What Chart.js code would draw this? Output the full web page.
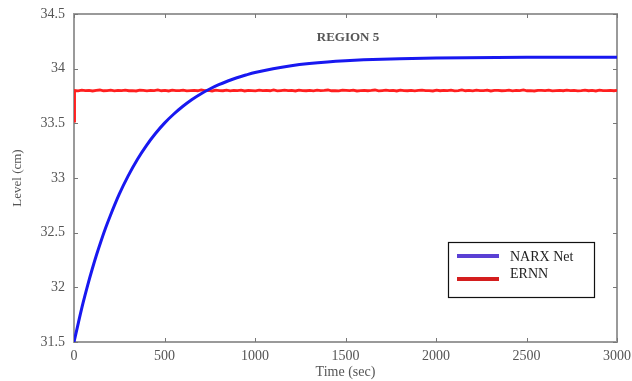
<!DOCTYPE html>
<html lang="en">
<head>
<meta charset="UTF-8">
<title>Region 5</title>
<script src="https://cdn.jsdelivr.net/npm/chart.js"></script>
<style>
    html, body { margin: 0; padding: 0; background: #fff; }
    #wrap { width: 632px; height: 381px; position: relative; }
</style>
</head>
<body>
<div id="wrap"><canvas id="chart1" width="632" height="381"></canvas></div>
<script>
// NARX Net response
const narxTime  = [0, 25, 50, 75, 100, 125, 150, 175, 200, 250, 300, 350, 400, 450, 500, 550, 600, 650, 700, 750, 800, 850, 900, 950, 1000, 1100, 1200, 1300, 1400, 1500, 1600, 1800, 2000, 2500, 3000];
const narxLevel = [31.500, 31.682, 31.857, 32.016, 32.163, 32.300, 32.427, 32.545, 32.653, 32.852, 33.022, 33.170, 33.297, 33.407, 33.502, 33.583, 33.654, 33.716, 33.769, 33.814, 33.853, 33.887, 33.917, 33.942, 33.965, 34.000, 34.027, 34.047, 34.062, 34.073, 34.081, 34.091, 34.097, 34.104, 34.105];

// ERNN response, one sample every 20 sec (first sample starts below the band)
const ernnStep = 20;
const ernnLevel = [33.52,
    33.800, 33.797, 33.804, 33.799, 33.802, 33.796, 33.801, 33.805, 33.798, 33.800,
    33.803, 33.797, 33.801, 33.799, 33.804, 33.798, 33.800, 33.796, 33.803, 33.801,
    33.797, 33.802, 33.800, 33.805, 33.798, 33.801, 33.796, 33.803, 33.799, 33.800,
    33.804, 33.797, 33.800, 33.802, 33.798, 33.805, 33.799, 33.801, 33.796, 33.803,
    33.800, 33.798, 33.804, 33.797, 33.801, 33.799, 33.803, 33.796, 33.802, 33.800,
    33.797, 33.804, 33.799, 33.801, 33.798, 33.805, 33.797, 33.800, 33.803, 33.799,
    33.801, 33.796, 33.804, 33.800, 33.798, 33.802, 33.797, 33.803, 33.799, 33.801,
    33.805, 33.798, 33.800, 33.797, 33.803, 33.801, 33.799, 33.804, 33.796, 33.800,
    33.802, 33.798, 33.801, 33.805, 33.797, 33.800, 33.803, 33.799, 33.801, 33.796,
    33.804, 33.800, 33.798, 33.802, 33.797, 33.801, 33.803, 33.799, 33.800, 33.796,
    33.804, 33.798, 33.801, 33.799, 33.803, 33.797, 33.800, 33.805, 33.798, 33.801,
    33.797, 33.803, 33.800, 33.799, 33.804, 33.796, 33.801, 33.802, 33.798, 33.800,
    33.803, 33.797, 33.801, 33.799, 33.805, 33.798, 33.800, 33.796, 33.802, 33.801,
    33.799, 33.804, 33.797, 33.800, 33.802, 33.798, 33.803, 33.799, 33.801, 33.797,
    33.800, 33.804, 33.798, 33.801, 33.796, 33.803, 33.800, 33.799, 33.802, 33.798,
    33.801];

const xTicks = [0, 500, 1000, 1500, 2000, 2500, 3000];
const yTicks = [31.5, 32, 32.5, 33, 33.5, 34, 34.5];
const seriesNames = ["NARX Net", "ERNN"];

const narxData = narxTime.map((t, i) => ({ x: t, y: narxLevel[i] }));
const ernnData = ernnLevel.map((v, i) => ({ x: i === 0 ? 0 : Math.min(3000, (i - 1) * ernnStep + 3), y: v }));

const serif = "'Liberation Serif', 'DejaVu Serif', serif";

// axis frame and inward ticks, drawn under the lines
const frame = {
    id: "frame",
    beforeDatasetsDraw(chart) {
        const ctx = chart.ctx;
        const a = chart.chartArea;
        const xs = chart.scales.x, ys = chart.scales.y;
        ctx.save();
        ctx.strokeStyle = "#9a9a9a";
        ctx.lineWidth = 2;
        ctx.strokeRect(a.left, a.top, a.right - a.left, a.bottom - a.top);
        ctx.lineWidth = 1;
        ctx.strokeStyle = "#777";
        xTicks.forEach(v => {
            const px = Math.round(xs.getPixelForValue(v)) + 0.5;
            ctx.beginPath();
            ctx.moveTo(px, a.bottom); ctx.lineTo(px, a.bottom - 4);
            ctx.moveTo(px, a.top); ctx.lineTo(px, a.top + 4);
            ctx.stroke();
        });
        yTicks.forEach(v => {
            const py = Math.round(ys.getPixelForValue(v)) + 0.5;
            ctx.beginPath();
            ctx.moveTo(a.left, py); ctx.lineTo(a.left + 4, py);
            ctx.moveTo(a.right, py); ctx.lineTo(a.right - 4, py);
            ctx.stroke();
        });
        ctx.restore();
    }
};

// title text and boxed legend, drawn on top
const decorations = {
    id: "decorations",
    afterDraw(chart) {
        const ctx = chart.ctx;
        ctx.save();
        ctx.fillStyle = "#555";
        ctx.font = "bold 13px " + serif;
        ctx.textAlign = "center";
        ctx.textBaseline = "middle";
        ctx.fillText("REGION 5", 348, 38);

        ctx.fillStyle = "#fff";
        ctx.fillRect(448, 242, 147, 56);
        ctx.strokeStyle = "#111";
        ctx.lineWidth = 1.2;
        ctx.strokeRect(448.5, 242.5, 146, 55);
        ctx.lineWidth = 4;
        ctx.strokeStyle = "#5a40d4";
        ctx.beginPath(); ctx.moveTo(457, 256); ctx.lineTo(499, 256); ctx.stroke();
        ctx.strokeStyle = "#d41e1e";
        ctx.beginPath(); ctx.moveTo(457, 279); ctx.lineTo(499, 279); ctx.stroke();
        ctx.fillStyle = "#222";
        ctx.font = "14px " + serif;
        ctx.textAlign = "left";
        ctx.fillText(seriesNames[0], 510, 257);
        ctx.fillText(seriesNames[1], 510, 274);
        ctx.restore();
    }
};

const ctx1 = document.getElementById("chart1").getContext("2d");
new Chart(ctx1, {
    type: "line",
    data: {
        datasets: [
            {
                label: seriesNames[0],
                data: narxData,
                borderColor: "#1818f0",
                borderWidth: 3,
                pointRadius: 0,
                cubicInterpolationMode: "monotone",
                fill: false
            },
            {
                label: seriesNames[1],
                data: ernnData,
                borderColor: "#ff1f1f",
                borderWidth: 2.8,
                pointRadius: 0,
                tension: 0,
                fill: false
            }
        ]
    },
    options: {
        responsive: false,
        animation: false,
        layout: { padding: { top: 14, right: 15, left: 0, bottom: 0 } },
        plugins: { legend: { display: false }, tooltip: { enabled: false } },
        scales: {
            x: {
                type: "linear",
                min: 0, max: 3000,
                afterBuildTicks: s => { s.ticks = xTicks.map(v => ({ value: v })); },
                afterFit: s => { s.height = 39; s.paddingRight = 0; s.paddingLeft = 0; },
                grid: { display: false, drawTicks: false },
                border: { display: false },
                ticks: { color: "#555", font: { family: serif, size: 14 }, padding: 6, maxRotation: 0, callback: v => String(v) },
                title: { display: true, text: "Time (sec)", color: "#555", font: { family: serif, size: 14 }, padding: { top: 0, bottom: 0 } }
            },
            y: {
                min: 31.5, max: 34.5,
                afterBuildTicks: s => { s.ticks = yTicks.map(v => ({ value: v })); },
                afterFit: s => { s.width = 74; s.paddingTop = 0; s.paddingBottom = 0; },
                grid: { display: false, drawTicks: false },
                border: { display: false },
                ticks: { color: "#555", font: { family: serif, size: 14 }, padding: 9, callback: v => String(v) },
                title: { display: true, text: "Level (cm)", color: "#555", font: { family: serif, size: 13 }, padding: { top: 10, bottom: 0 } }
            }
        }
    },
    plugins: [frame, decorations]
});
</script>
</body>
</html>
